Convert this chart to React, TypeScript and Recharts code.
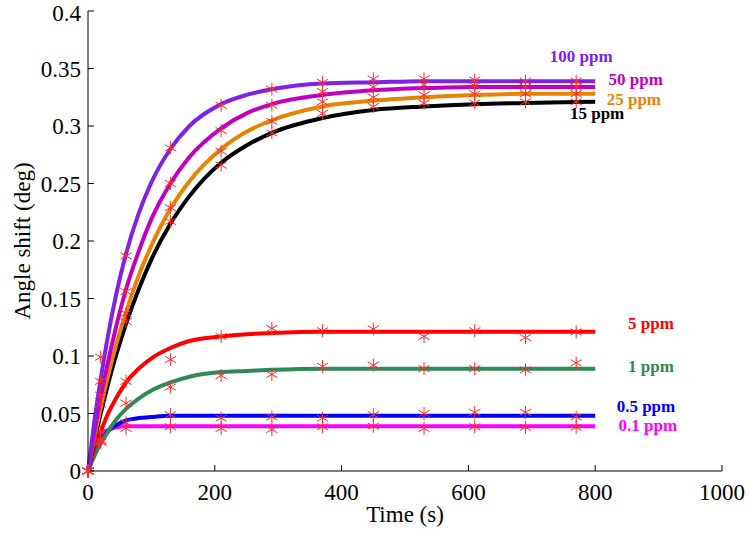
import React from 'react';
import {
  ComposedChart,
  Line,
  Scatter,
  XAxis,
  YAxis,
  ReferenceDot,
} from 'recharts';

// fitted curves, sampled along time (s)
const fitTimes = [0, 10, 20, 30, 45, 60, 80, 100, 130, 160, 210, 250, 290, 370, 450, 530, 610, 690, 800];
const fit100 = [0, 0.043, 0.08, 0.113, 0.155, 0.189, 0.224, 0.251, 0.28, 0.3, 0.319, 0.327, 0.332, 0.337, 0.338, 0.339, 0.339, 0.339, 0.339];
const fit50 = [0, 0.034, 0.064, 0.091, 0.127, 0.158, 0.191, 0.219, 0.25, 0.273, 0.298, 0.311, 0.319, 0.327, 0.331, 0.333, 0.334, 0.334, 0.334];
const fit25 = [0, 0.029, 0.055, 0.079, 0.111, 0.138, 0.17, 0.196, 0.228, 0.252, 0.28, 0.295, 0.305, 0.317, 0.322, 0.325, 0.327, 0.328, 0.328];
const fit15 = [0, 0.026, 0.05, 0.072, 0.102, 0.128, 0.158, 0.184, 0.215, 0.239, 0.268, 0.283, 0.294, 0.307, 0.314, 0.317, 0.319, 0.32, 0.321];
const fit5 = [0, 0.019, 0.034, 0.048, 0.064, 0.077, 0.089, 0.098, 0.107, 0.113, 0.117, 0.119, 0.12, 0.121, 0.121, 0.121, 0.121, 0.121, 0.121];
const fit1 = [0, 0.013, 0.024, 0.033, 0.045, 0.054, 0.063, 0.07, 0.077, 0.082, 0.086, 0.087, 0.088, 0.089, 0.089, 0.089, 0.089, 0.089, 0.089];
const fit05 = [0, 0.016, 0.026, 0.034, 0.04, 0.044, 0.046, 0.047, 0.048, 0.048, 0.048, 0.048, 0.048, 0.048, 0.048, 0.048, 0.048, 0.048, 0.048];
const fit01 = [0, 0.021, 0.031, 0.035, 0.038, 0.039, 0.039, 0.039, 0.039, 0.039, 0.039, 0.039, 0.039, 0.039, 0.039, 0.039, 0.039, 0.039, 0.039];

// measured points
const markTimes = [0, 20, 60, 130, 210, 290, 370, 450, 530, 610, 690, 770];
const m100 = [0, 0.099, 0.187, 0.281, 0.318, 0.332, 0.338, 0.341, 0.341, 0.34, 0.339, 0.339];
const m50 = [0, 0.078, 0.156, 0.25, 0.296, 0.318, 0.33, 0.334, 0.336, 0.335, 0.334, 0.334];
const m25 = [0, 0.066, 0.137, 0.229, 0.278, 0.304, 0.321, 0.325, 0.327, 0.328, 0.328, 0.328];
const m15 = [0, 0.058, 0.13, 0.217, 0.266, 0.294, 0.311, 0.317, 0.32, 0.32, 0.321, 0.321];
const m5 = [0, 0.034, 0.078, 0.097, 0.117, 0.124, 0.122, 0.1235, 0.117, 0.122, 0.116, 0.121];
const m1 = [0, 0.026, 0.059, 0.073, 0.083, 0.084, 0.091, 0.092, 0.089, 0.089, 0.088, 0.094];
const m05 = [0, 0.027, 0.042, 0.049, 0.046, 0.047, 0.046, 0.049, 0.05, 0.051, 0.051, 0.047];
const m01 = [0, 0.025, 0.037, 0.0385, 0.037, 0.036, 0.0385, 0.039, 0.037, 0.0385, 0.038, 0.038];

const xTicks = [0, 200, 400, 600, 800, 1000];
const yTicks = [0, 0.05, 0.1, 0.15, 0.2, 0.25, 0.3, 0.35, 0.4];

// drawing order: bottom first
const series = [
  { key: 'c01', name: '0.1 ppm', color: '#ff00ff', fit: fit01, marks: m01, lx: 883, ly: 0.04 },
  { key: 'c05', name: '0.5 ppm', color: '#0000ff', fit: fit05, marks: m05, lx: 880, ly: 0.0565 },
  { key: 'c1', name: '1 ppm', color: '#2e8b57', fit: fit1, marks: m1, lx: 888, ly: 0.0913 },
  { key: 'c5', name: '5 ppm', color: '#ff0000', fit: fit5, marks: m5, lx: 888, ly: 0.1287 },
  { key: 'c15', name: '15 ppm', color: '#000000', fit: fit15, marks: m15, lx: 803, ly: 0.3113 },
  { key: 'c25', name: '25 ppm', color: '#e68400', fit: fit25, marks: m25, lx: 861, ly: 0.3239 },
  { key: 'c50', name: '50 ppm', color: '#c000c0', fit: fit50, marks: m50, lx: 864, ly: 0.3413 },
  { key: 'c100', name: '100 ppm', color: '#7f22e6', fit: fit100, marks: m100, lx: 778, ly: 0.361 },
];

const rows = fitTimes.map((t, i) => {
  const row: Record<string, number> = { t };
  series.forEach((s) => {
    row[s.key] = s.fit[i];
  });
  return row;
});

const FONT = '"Liberation Serif", "Times New Roman", serif';

// red six-spoke asterisk
const Asterisk = (props: any) => {
  const { cx, cy } = props;
  if (cx == null || cy == null) return null;
  const r = 6.5;
  const dx = r * Math.cos(Math.PI / 6);
  const dy = r * Math.sin(Math.PI / 6);
  return (
    <g stroke="#ff2a2a" strokeWidth={1}>
      <line x1={cx} y1={cy - r} x2={cx} y2={cy + r} />
      <line x1={cx - dx} y1={cy - dy} x2={cx + dx} y2={cy + dy} />
      <line x1={cx - dx} y1={cy + dy} x2={cx + dx} y2={cy - dy} />
    </g>
  );
};

export default function App() {
  return (
    <div style={{ position: 'absolute', left: 0, top: 0, background: '#fff', fontFamily: FONT }}>
      <ComposedChart
        width={750}
        height={540}
        data={rows}
        margin={{ top: 11, right: 28, left: 0, bottom: 0 }}
        style={{ fontFamily: FONT }}
      >
        <XAxis
          dataKey="t"
          type="number"
          domain={[0, 1000]}
          ticks={xTicks}
          height={69}
          stroke="#000"
          tickSize={-6}
          tickMargin={19}
          tick={{ fill: '#000', fontSize: 23, fontFamily: FONT }}
          label={{
            value: 'Time (s)',
            position: 'insideBottom',
            offset: 18,
            fill: '#000',
            fontSize: 23,
            fontFamily: FONT,
          }}
        />
        <XAxis
          xAxisId="top"
          orientation="top"
          type="number"
          domain={[0, 1000]}
          ticks={xTicks}
          height={0}
          stroke="#000"
          tickSize={-6}
          tick={false}
        />
        <YAxis
          type="number"
          domain={[0, 0.4]}
          ticks={yTicks}
          width={88}
          stroke="#000"
          tickSize={-6}
          tickMargin={13}
          tick={{ fill: '#000', fontSize: 23, fontFamily: FONT }}
          label={{
            value: 'Angle shift (deg)',
            angle: -90,
            position: 'insideLeft',
            offset: 22,
            fill: '#000',
            fontSize: 23,
            fontFamily: FONT,
            style: { textAnchor: 'middle' },
          }}
        />
        <YAxis
          yAxisId="right"
          orientation="right"
          type="number"
          domain={[0, 0.4]}
          ticks={yTicks}
          width={0}
          stroke="#000"
          tickSize={-6}
          tick={false}
        />
        {series.map((s) => (
          <Line
            key={s.key}
            dataKey={s.key}
            type="monotone"
            stroke={s.color}
            strokeWidth={4}
            dot={false}
            activeDot={false}
            isAnimationActive={false}
          />
        ))}
        {series.map((s) => (
          <Scatter
            key={'m' + s.key}
            data={markTimes.map((t, i) => ({ t, v: s.marks[i] }))}
            dataKey="v"
            shape={<Asterisk />}
            isAnimationActive={false}
          />
        ))}
        {series.map((s) => (
          <ReferenceDot
            key={'l' + s.key}
            x={s.lx}
            y={s.ly}
            r={0}
            stroke="none"
            label={{
              value: s.name,
              position: 'center',
              fill: s.color,
              fontSize: 17,
              fontWeight: 'bold',
              fontFamily: FONT,
            }}
          />
        ))}
      </ComposedChart>
    </div>
  );
}
